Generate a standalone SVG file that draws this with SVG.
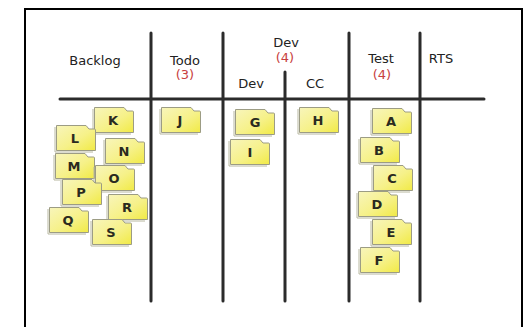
<svg xmlns="http://www.w3.org/2000/svg" xmlns:xlink="http://www.w3.org/1999/xlink" width="524" height="327" viewBox="0 0 524 327">
<style>
.hdr{font-family:"DejaVu Sans",Verdana,sans-serif;font-size:13px;fill:#222;text-anchor:middle}
.cnt{font-family:"DejaVu Sans",Verdana,sans-serif;font-size:13px;fill:#c84040;text-anchor:middle}
.lbl{font-family:"DejaVu Sans",Verdana,sans-serif;font-size:13px;font-weight:bold;fill:#2a2a20;text-anchor:middle}
.ln{stroke:#2b2b2b;stroke-width:3;stroke-linecap:round;fill:none}
</style>
<defs>
<linearGradient id="ny" x1="0" y1="0" x2="1" y2="1">
<stop offset="0" stop-color="#f8f5bb"/>
<stop offset="0.55" stop-color="#f6f189"/>
<stop offset="1" stop-color="#f1ea45"/>
</linearGradient>
<g id="note">
<path d="M-1,2 V27 H37" fill="none" stroke="#b8b8a0" stroke-width="1"/>
<path d="M0.5,0.5 H30 L33,4 H38.5 Q39.5,4 39.5,5 V25.5 H0.5 Z" fill="url(#ny)" stroke="#9c9c84" stroke-width="1"/>
</g>
</defs>
<rect width="524" height="327" fill="#fff"/>
<path d="M25,328 V9 H522 V328" fill="none" stroke="#000" stroke-width="2"/>
<g id="connectors">
<line class="ln" x1="60" y1="99" x2="484" y2="99"/>
<line class="ln" x1="151" y1="33" x2="151" y2="301"/>
<line class="ln" x1="223" y1="33" x2="223" y2="301"/>
<line class="ln" x1="285" y1="72" x2="285" y2="301"/>
<line class="ln" x1="349" y1="33" x2="349" y2="301"/>
<line class="ln" x1="420" y1="33" x2="420" y2="301"/>
</g>
<g id="headers">
<text class="hdr" x="95" y="65">Backlog</text>
<text class="hdr" x="185" y="65">Todo</text>
<text class="cnt" x="185" y="79">(3)</text>
<text class="hdr" x="286" y="47">Dev</text>
<text class="cnt" x="285" y="62">(4)</text>
<text class="hdr" x="251" y="88">Dev</text>
<text class="hdr" x="315" y="88">CC</text>
<text class="hdr" x="381" y="63">Test</text>
<text class="cnt" x="382" y="79">(4)</text>
<text class="hdr" x="441" y="63">RTS</text>
</g>
<g id="note-K" transform="translate(94,107)"><use xlink:href="#note"/><text class="lbl" x="19" y="18">K</text></g>
<g id="note-L" transform="translate(56,125)"><use xlink:href="#note"/><text class="lbl" x="19" y="18">L</text></g>
<g id="note-N" transform="translate(105,138)"><use xlink:href="#note"/><text class="lbl" x="19" y="18">N</text></g>
<g id="note-M" transform="translate(55,153)"><use xlink:href="#note"/><text class="lbl" x="19" y="18">M</text></g>
<g id="note-O" transform="translate(95,165)"><use xlink:href="#note"/><text class="lbl" x="19" y="18">O</text></g>
<g id="note-P" transform="translate(62,179)"><use xlink:href="#note"/><text class="lbl" x="19" y="18">P</text></g>
<g id="note-R" transform="translate(108,194)"><use xlink:href="#note"/><text class="lbl" x="19" y="18">R</text></g>
<g id="note-Q" transform="translate(49,207)"><use xlink:href="#note"/><text class="lbl" x="19" y="18">Q</text></g>
<g id="note-S" transform="translate(92,219)"><use xlink:href="#note"/><text class="lbl" x="19" y="18">S</text></g>
<g id="note-J" transform="translate(161,107)"><use xlink:href="#note"/><text class="lbl" x="19" y="18">J</text></g>
<g id="note-G" transform="translate(235,109)"><use xlink:href="#note"/><text class="lbl" x="20" y="18">G</text></g>
<g id="note-I" transform="translate(230,139)"><use xlink:href="#note"/><text class="lbl" x="20" y="18">I</text></g>
<g id="note-H" transform="translate(299,107)"><use xlink:href="#note"/><text class="lbl" x="19" y="18">H</text></g>
<g id="note-A" transform="translate(372,108)"><use xlink:href="#note"/><text class="lbl" x="19" y="18">A</text></g>
<g id="note-B" transform="translate(360,137)"><use xlink:href="#note"/><text class="lbl" x="19" y="18">B</text></g>
<g id="note-C" transform="translate(373,165)"><use xlink:href="#note"/><text class="lbl" x="19" y="18">C</text></g>
<g id="note-D" transform="translate(358,191)"><use xlink:href="#note"/><text class="lbl" x="19" y="18">D</text></g>
<g id="note-E" transform="translate(372,219)"><use xlink:href="#note"/><text class="lbl" x="19" y="18">E</text></g>
<g id="note-F" transform="translate(360,247)"><use xlink:href="#note"/><text class="lbl" x="19" y="18">F</text></g>
</svg>
